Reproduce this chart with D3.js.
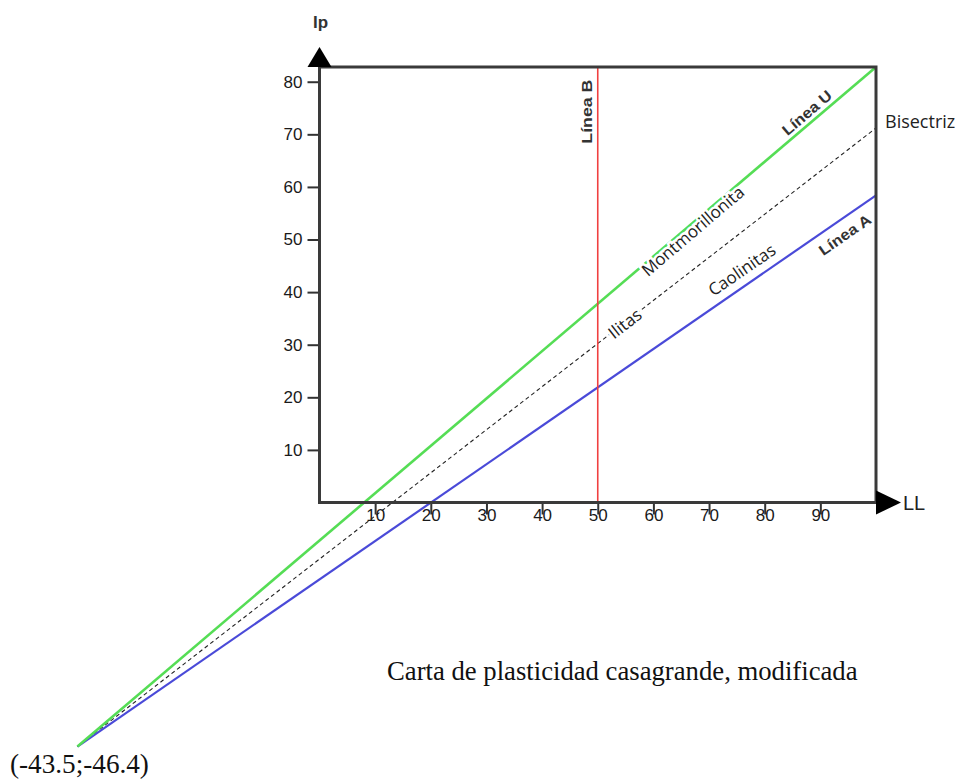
<!DOCTYPE html>
<html>
<head>
<meta charset="utf-8">
<script src="https://cdn.jsdelivr.net/npm/d3@7"></script>
<style>
  body { margin: 0; background: #fff; }
  svg { display: block; }
</style>
</head>
<body>
<div id="chart"></div>
<script>
// tick labels
var llTicks = [10, 20, 30, 40, 50, 60, 70, 80, 90];
var ipTicks = [10, 20, 30, 40, 50, 60, 70, 80];

// end points of each line, [LL, Ip]
var lineU = [[-43.5, -46.4], [100, 82.8]];
var lineA = [[-43.5, -46.4], [100, 58.4]];
var bisectriz = [[-43.5, -46.4], [100, 71.2]];
var lineB = [[50, 0], [50, 82.8]];
var origin = [-43.5, -46.4];

var width = 959;
var height = 780;

var svg = d3.select('#chart')
  .append('svg')
  .attr('width', width)
  .attr('height', height);

// scales: LL from 0 to 100, Ip from 0 to 82.8 (top of the frame)
var x = d3.scaleLinear().domain([0, 100]).range([319.5, 876]);
var y = d3.scaleLinear().domain([0, 82.8]).range([502.5, 67]);

var line = d3.line()
  .x(function(d) { return x(d[0]); })
  .y(function(d) { return y(d[1]); });

// angle of a line on screen, in degrees
function angle(pts) {
  var dx = x(pts[1][0]) - x(pts[0][0]);
  var dy = y(pts[1][1]) - y(pts[0][1]);
  return Math.atan2(dy, dx) * 180 / Math.PI;
}

//the lines
svg.append('path').datum(bisectriz)
  .attr('d', line)
  .attr('fill', 'none')
  .attr('stroke', '#222')
  .attr('stroke-width', 1.1)
  .attr('stroke-dasharray', '4,3');

svg.append('path').datum(lineA)
  .attr('d', line)
  .attr('fill', 'none')
  .attr('stroke', '#4a4ad8')
  .attr('stroke-width', 2.2);

svg.append('path').datum(lineU)
  .attr('d', line)
  .attr('fill', 'none')
  .attr('stroke', '#55dd55')
  .attr('stroke-width', 2.6);

svg.append('path').datum(lineB)
  .attr('d', line)
  .attr('fill', 'none')
  .attr('stroke', '#f04040')
  .attr('stroke-width', 1.6);

//axes with ticks
var yAxis = svg.append('g')
  .attr('transform', 'translate(' + x(0) + ',0)')
  .call(d3.axisLeft(y).tickValues(ipTicks).tickSize(12).tickPadding(5));

var xAxis = svg.append('g')
  .attr('transform', 'translate(0,' + y(0) + ')')
  .call(d3.axisBottom(x).tickValues(llTicks).tickSize(12).tickPadding(-6));

[yAxis, xAxis].forEach(function(g) {
  g.select('.domain').remove();
  g.selectAll('line').attr('stroke', '#333').attr('stroke-width', 2);
  g.selectAll('text')
    .attr('fill', '#1a1a1a')
    .style('font-family', 'Liberation Sans, Arial, sans-serif')
    .style('font-size', '17px');
});

//frame
svg.append('rect')
  .attr('x', x(0))
  .attr('y', y(82.8))
  .attr('width', x(100) - x(0))
  .attr('height', y(0) - y(82.8))
  .attr('fill', 'none')
  .attr('stroke', '#3a3a3a')
  .attr('stroke-width', 3);

//arrow heads
svg.append('path')
  .attr('d', 'M' + (x(0) - 12) + ',' + y(82.8) + 'L' + x(0) + ',' + (y(82.8) - 20) + 'L' + (x(0) + 12) + ',' + y(82.8) + 'Z')
  .attr('fill', '#000');

svg.append('path')
  .attr('d', 'M' + x(100) + ',' + (y(0) - 12) + 'L' + (x(100) + 25) + ',' + y(0) + 'L' + x(100) + ',' + (y(0) + 12) + 'Z')
  .attr('fill', '#000');

svg.append('text')
  .attr('x', x(0) + 1).attr('y', 28)
  .attr('text-anchor', 'middle')
  .style('font-family', 'Liberation Sans, Arial, sans-serif')
  .style('font-size', '17px').style('font-weight', 'bold')
  .attr('fill', '#333')
  .text('Ip');

svg.append('text')
  .attr('x', x(100) + 27).attr('y', y(0) + 7)
  .style('font-family', 'Liberation Sans, Arial, sans-serif')
  .style('font-size', '20px')
  .attr('fill', '#222')
  .text('LL');

//labels on the lines: center of text in chart units
var labels = [
  { text: 'Línea U', pts: lineU, at: [87.6, 74.1], bold: true },
  { text: 'Montmorillonita', pts: lineU, at: [67.1, 51.6], halo: true },
  { text: 'Ilitas', pts: bisectriz, at: [54.9, 34.0], halo: true },
  { text: 'Caolinitas', pts: lineA, at: [75.9, 44.2] },
  { text: 'Línea A', pts: lineA, at: [94.4, 50.9], bold: true }
];

labels.forEach(function(l) {
  var t = svg.append('text')
    .attr('transform', 'translate(' + x(l.at[0]) + ',' + y(l.at[1]) + ') rotate(' + angle(l.pts) + ')')
    .attr('text-anchor', 'middle')
    .attr('dy', '0.35em')
    .attr('fill', '#222')
    .text(l.text);
  if (l.bold) {
    t.style('font-family', 'Liberation Sans, Arial, sans-serif')
      .style('font-size', '15px').style('font-weight', 'bold')
      .attr('fill', '#333')
      .attr('textLength', 60).attr('lengthAdjust', 'spacingAndGlyphs');
  } else {
    t.style('font-family', 'Open Sans, sans-serif').style('font-size', '17px');
  }
  if (l.halo) {
    t.attr('stroke', '#fff').attr('stroke-width', 5).style('paint-order', 'stroke');
  }
});

svg.append('text')
  .attr('transform', 'translate(' + x(48.1) + ',' + y(74.3) + ') rotate(-90)')
  .attr('text-anchor', 'middle')
  .attr('dy', '0.35em')
  .style('font-family', 'Liberation Sans, Arial, sans-serif')
  .style('font-size', '15px').style('font-weight', 'bold')
  .attr('fill', '#333')
  .attr('textLength', 64).attr('lengthAdjust', 'spacingAndGlyphs')
  .text('Línea B');

svg.append('text')
  .attr('x', x(100) + 9).attr('y', 128)
  .style('font-family', 'Open Sans, sans-serif')
  .style('font-size', '18px')
  .attr('fill', '#222')
  .text('Bisectriz');

//caption and the meeting point of the lines
svg.append('text')
  .attr('x', 387).attr('y', 680)
  .style('font-family', 'Liberation Serif, Times New Roman, serif')
  .style('font-size', '26.7px')
  .attr('fill', '#111')
  .text('Carta de plasticidad casagrande, modificada');

svg.append('text')
  .attr('x', 10).attr('y', 773)
  .style('font-family', 'Liberation Serif, Times New Roman, serif')
  .style('font-size', '27.2px')
  .attr('fill', '#111')
  .text('(' + origin[0] + ';' + origin[1] + ')');
</script>
</body>
</html>
